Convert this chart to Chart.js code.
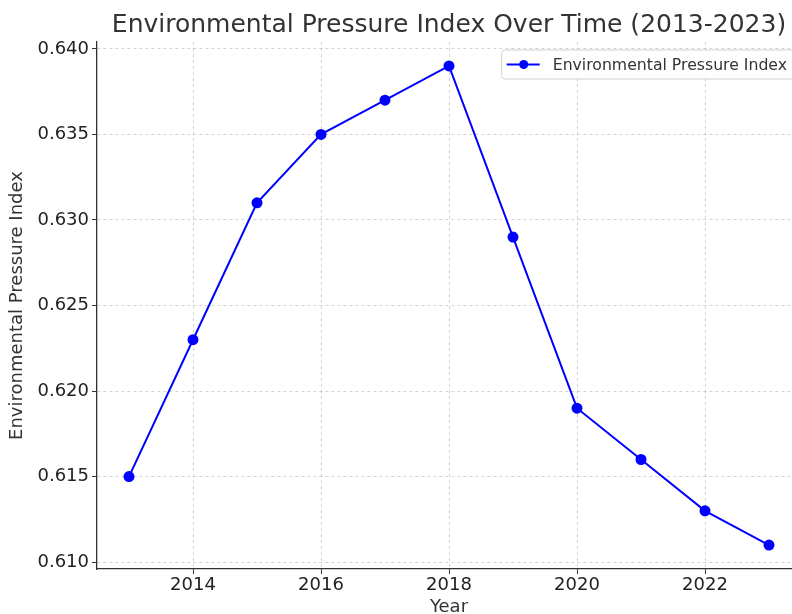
<!DOCTYPE html>
<html>
<head>
<meta charset="utf-8">
<script src="https://cdn.jsdelivr.net/npm/chart.js@4.4.0/dist/chart.umd.min.js"></script>
<style>
  html, body { margin: 0; padding: 0; overflow: hidden; background: #fff; }
  #wrap { width: 792px; height: 614px; overflow: hidden; position: relative; }
  canvas { position: absolute; left: 0; top: 0; }
</style>
</head>
<body>
<div id="wrap"><canvas id="chart" width="830" height="632"></canvas></div>
<script>
// data
var years = [2013, 2014, 2015, 2016, 2017, 2018, 2019, 2020, 2021, 2022, 2023];
var pressureIndex = [0.615, 0.623, 0.631, 0.635, 0.637, 0.639, 0.629, 0.619, 0.616, 0.613, 0.611];
var xTicks = [2014, 2016, 2018, 2020, 2022];
var yTicks = [0.610, 0.615, 0.620, 0.625, 0.630, 0.635, 0.640];

var points = [];
for (var i = 0; i < years.length; i++) {
  points.push({ x: years[i], y: pressureIndex[i] });
}

var FONT = "'DejaVu Sans', sans-serif";

// legend box drawn inside the plot (top right), like matplotlib
var boxLegend = {
  id: "boxLegend",
  afterDatasetsDraw: function(chart) {
    var ctx = chart.ctx;
    var area = chart.chartArea;
    var ds = chart.data.datasets[0];
    ctx.save();
    ctx.font = "15.7px " + FONT;
    var tw = ctx.measureText(ds.label).width;
    var h = 29, w = tw + 60;
    var x = area.right - 5 - w, y = area.top + 8;
    ctx.beginPath();
    ctx.roundRect(x, y, w, h, 3);
    ctx.fillStyle = "rgba(255,255,255,0.85)";
    ctx.fill();
    ctx.strokeStyle = "#d0d0d0";
    ctx.lineWidth = 1;
    ctx.stroke();
    var cy = y + h / 2;
    ctx.beginPath();
    ctx.moveTo(x + 5, cy);
    ctx.lineTo(x + 38, cy);
    ctx.strokeStyle = ds.borderColor;
    ctx.lineWidth = 2;
    ctx.stroke();
    ctx.beginPath();
    ctx.arc(x + 22, cy, 4.5, 0, Math.PI * 2);
    ctx.fillStyle = ds.borderColor;
    ctx.fill();
    ctx.fillStyle = "#333";
    ctx.textBaseline = "middle";
    ctx.fillText(ds.label, x + 51, cy + 1);
    ctx.restore();
  }
};

new Chart(document.getElementById("chart"), {
  type: "line",
  data: {
    datasets: [{
      label: "Environmental Pressure Index",
      data: points,
      borderColor: "#0000ff",
      backgroundColor: "#0000ff",
      borderWidth: 2,
      pointRadius: 4.5,
      pointHoverRadius: 4.5,
      fill: false,
      tension: 0
    }]
  },
  options: {
    responsive: false,
    animation: false,
    layout: { padding: { left: 0, right: 29, top: 0, bottom: 0 } },
    plugins: {
      legend: { display: false },
      tooltip: { enabled: false },
      title: {
        display: true,
        fullSize: false,
        text: "Environmental Pressure Index Over Time (2013-2023)",
        color: "#333",
        font: { family: FONT, size: 25, weight: "normal", lineHeight: 1.2 },
        padding: { top: 10, bottom: 2 }
      }
    },
    scales: {
      x: {
        type: "linear",
        min: 2012.5,
        max: 2023.5,
        afterFit: function(s) { s.height = 63; },
        afterBuildTicks: function(s) { s.ticks = xTicks.map(function(v) { return { value: v }; }); },
        border: { display: true, color: "#333", width: 1.3, dash: [3, 3] },
        grid: {
          color: "rgba(0,0,0,0.17)", lineWidth: 1,
          drawTicks: true, tickLength: 5, tickColor: "#333", tickBorderDash: [], tickWidth: 1
        },
        ticks: {
          color: "#222", padding: 1, maxRotation: 0,
          font: { family: FONT, size: 18 },
          callback: function(v) { return String(v); }
        },
        title: {
          display: true, text: "Year", color: "#333",
          font: { family: FONT, size: 18 },
          padding: { top: 0, bottom: 14 }
        }
      },
      y: {
        min: 0.6096,
        max: 0.6404,
        afterFit: function(s) { s.width = 97; },
        afterBuildTicks: function(s) { s.ticks = yTicks.map(function(v) { return { value: v }; }); },
        border: { display: true, color: "#333", width: 1.3, dash: [3, 3] },
        grid: {
          color: "rgba(0,0,0,0.17)", lineWidth: 1,
          drawTicks: true, tickLength: 5, tickColor: "#333", tickBorderDash: [], tickWidth: 1
        },
        ticks: {
          color: "#222", padding: 3,
          font: { family: FONT, size: 18 },
          callback: function(v) { return v.toFixed(3); }
        },
        title: {
          display: true, text: "Environmental Pressure Index", color: "#333",
          font: { family: FONT, size: 18 },
          padding: { top: 7, bottom: 0 }
        }
      }
    }
  },
  plugins: [boxLegend]
});
</script>
</body>
</html>
